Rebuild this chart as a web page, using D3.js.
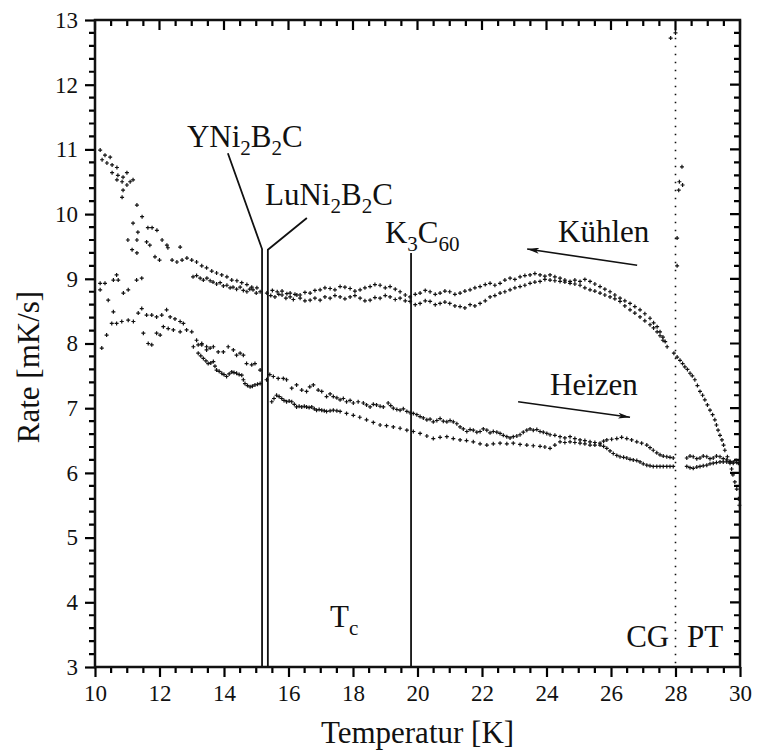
<!DOCTYPE html>
<html><head><meta charset="utf-8">
<script src="https://cdn.jsdelivr.net/npm/d3@7"></script>
<style>
body{margin:0;background:#fff}
svg{display:block}
text{font-family:"Liberation Serif","Times New Roman",Times,serif;fill:#111}
</style>
</head><body>
<svg id="c" width="758" height="751"></svg>
<script>
// ---------- data ----------
const xMajorTicks = [10,12,14,16,18,20,22,24,26,28,30];
const yMajorTicks = [3,4,5,6,7,8,9,10,11,12,13];
const xLabel = "Temperatur [K]";
const yLabel = "Rate [mK/s]";

const coolingLowT = [[10.16,10.99],[10.31,10.91],[10.47,10.88],[10.22,10.84],[10.37,10.79],[10.53,10.76],[10.68,10.72],[10.53,10.64],[10.71,10.6],[10.87,10.57],[10.99,10.64],[10.68,10.53],[10.84,10.5],[10.99,10.45],[11.09,10.5],[11.18,10.53],[10.87,10.37],[10.84,10.26],
[11.3,10.14],[11.18,9.86],[11.46,9.96],[11.64,9.79],[11.77,9.79],[11.92,9.75],[11.33,9.72],[11.3,9.6],[11.02,9.6],[11.6,9.57],[11.7,9.52],[12.08,9.6],[12.23,9.52],[11.15,9.45],[11.3,9.4],[11.86,9.34],[12.0,9.29],[12.26,9.48],[12.64,9.49],[12.39,9.29],[12.54,9.26],[12.7,9.29],[12.85,9.32]];

const coolingUpper = [[13.00,9.29],[13.15,9.26],[13.31,9.20],[13.46,9.17],[13.62,9.12],[13.77,9.09],[13.93,9.06],[14.09,9.03],[14.24,8.98],[14.40,8.97],[14.55,8.94],[14.71,8.91],[14.86,8.87],[15.02,8.86],[15.50,8.82],[15.65,8.80],[15.80,8.81],[15.95,8.77],[16.05,8.78],[16.20,8.76],[16.36,8.75],[16.51,8.79],[16.67,8.78],[16.82,8.82],[16.98,8.83],[17.13,8.86],[17.29,8.85],[17.44,8.83],[17.60,8.88],[17.75,8.87],[17.91,8.85],[18.06,8.81],[18.22,8.83],[18.37,8.86],[18.53,8.88],[18.68,8.91],[18.84,8.90],[19.00,8.86],[19.15,8.88],[19.31,8.84],[19.46,8.80],[19.62,8.75],[19.77,8.72],[19.93,8.76],[20.08,8.78],[20.24,8.82],[20.39,8.80],[20.55,8.76],[20.70,8.78],[20.85,8.81],[21.00,8.80],[21.16,8.76],[21.32,8.78],[21.47,8.81],[21.63,8.83],[21.78,8.86],[21.94,8.88],[22.10,8.91],[22.25,8.93],[22.40,8.90],[22.56,8.93],[22.71,8.98],[22.87,9.01],[23.02,8.99],[23.18,9.03],[23.33,9.05],[23.49,9.06],[23.64,9.08],[23.80,9.06],[23.95,9.04],[24.11,9.06],[24.26,9.03],[24.42,9.01],[24.57,8.98],[24.73,8.96],[24.88,8.98],[25.04,8.96],[25.19,8.99],[25.35,8.96],[25.50,8.92],[25.66,8.88],[25.81,8.84],[25.97,8.80],[26.12,8.75],[26.28,8.70],[26.43,8.66],[26.59,8.62],[26.74,8.57],[26.90,8.52],[27.05,8.46],[27.21,8.39],[27.32,8.32],[27.43,8.26],[27.52,8.18],[27.61,8.10],[27.68,8.03],[27.74,7.95]];

const coolingLower = [[13.04,9.03],[13.15,9.05],[13.26,9.01],[13.36,8.98],[13.47,9.01],[13.57,8.97],[13.66,8.95],[13.77,8.92],[13.88,8.94],[13.98,8.89],[14.09,8.90],[14.19,8.86],[14.28,8.87],[14.39,8.84],[14.50,8.87],[14.60,8.82],[14.71,8.80],[14.80,8.84],[14.90,8.83],[15.00,8.78],[15.12,8.80],[15.33,8.78],[15.45,8.74],[15.58,8.72],[15.70,8.76],[15.80,8.75],[15.92,8.70],[16.05,8.72],[16.15,8.68],[16.26,8.75],[16.36,8.70],[16.51,8.66],[16.67,8.67],[16.82,8.70],[16.98,8.67],[17.13,8.72],[17.29,8.70],[17.44,8.74],[17.60,8.72],[17.75,8.69],[17.91,8.72],[18.06,8.74],[18.22,8.70],[18.37,8.66],[18.53,8.67],[18.68,8.71],[18.84,8.70],[19.00,8.74],[19.15,8.72],[19.31,8.68],[19.46,8.70],[19.62,8.66],[19.77,8.65],[19.93,8.60],[20.08,8.62],[20.24,8.66],[20.39,8.65],[20.55,8.60],[20.70,8.62],[20.85,8.64],[21.00,8.62],[21.16,8.58],[21.32,8.57],[21.47,8.55],[21.63,8.60],[21.78,8.58],[21.94,8.62],[22.10,8.66],[22.25,8.72],[22.40,8.74],[22.56,8.78],[22.71,8.80],[22.87,8.83],[23.02,8.86],[23.18,8.88],[23.33,8.90],[23.49,8.93],[23.64,8.95],[23.80,8.96],[23.95,8.99],[24.11,8.98],[24.26,8.97],[24.42,8.96],[24.57,8.95],[24.73,8.93],[24.88,8.92],[25.04,8.90],[25.19,8.86],[25.35,8.83],[25.50,8.81],[25.66,8.78],[25.81,8.75],[25.97,8.72],[26.12,8.69],[26.28,8.65],[26.43,8.58],[26.59,8.52],[26.74,8.47],[26.90,8.41],[27.05,8.35],[27.21,8.29],[27.32,8.24],[27.43,8.18],[27.52,8.12],[27.61,8.05]];

const coolingHighT = [[27.95,7.85],[28.05,7.79],[28.14,7.74],[28.22,7.69],[28.29,7.64],[28.37,7.60],[28.45,7.54],[28.52,7.50],[28.6,7.44],[28.68,7.35],[28.76,7.26],[28.84,7.20],[28.91,7.13],[28.99,7.05],[29.07,6.97],[29.15,6.90],[29.22,6.82],[29.27,6.74],[29.32,6.66],[29.38,6.58],[29.44,6.51],[29.49,6.43],[29.53,6.35],[29.61,6.25],[29.69,6.15],[29.74,6.06],[29.78,5.97],[29.84,5.86],[29.9,5.75],[29.95,5.6],[29.98,5.5],
[28.0,12.8],[27.85,12.72],[28.2,10.73],[28.12,10.5],[28.22,10.45],[28.1,10.37],[28.05,9.63],[28.05,9.2]];

const heatingLowT = [[10.16,8.93],[10.31,8.93],[10.16,8.83],[10.41,8.67],[10.57,8.98],[10.67,9.06],[10.72,8.98],[10.88,8.78],[11.03,8.83],[11.29,8.98],[11.45,9.01],
[10.21,7.93],[10.36,8.13],[10.52,8.31],[10.57,8.49],[10.67,8.31],[10.83,8.34],[11.03,8.36],[11.19,8.34],[11.34,8.47],[11.45,8.54],[11.6,8.44],[11.76,8.44],[11.91,8.41],[12.07,8.44],[12.22,8.52],[12.33,8.41],[12.48,8.38],[12.64,8.34],
[11.5,8.16],[11.65,8.0],[11.76,7.98],[11.91,8.16],[12.02,8.13],[12.12,8.26],[12.27,8.23],[12.43,8.21],[12.64,8.18],[12.74,8.31],[12.84,8.21],[13.0,8.18],[13.15,8.05],[13.31,8.0],[13.46,7.95]];

const heatingUpper = [[13.05,7.95],[13.20,7.98],[13.31,7.98],[13.46,7.90],[13.57,7.93],[13.67,7.95],[13.82,7.87],[13.98,7.87],[14.13,7.95],[14.29,7.90],[14.39,7.82],[14.50,7.85],[14.60,7.82],[14.70,7.69],[14.86,7.67],[14.96,7.69],[15.12,7.59],[15.32,7.44],[15.42,7.52],[15.53,7.49],[15.68,7.46],[15.84,7.46],[15.94,7.44],[16.10,7.31],[16.25,7.36],[16.41,7.28],[16.56,7.26],[16.66,7.33],[16.77,7.36],[16.92,7.28],[17.03,7.26],[17.18,7.18],[17.29,7.22],[17.39,7.18],[17.50,7.16],[17.60,7.13],[17.70,7.15],[17.80,7.10],[17.91,7.12],[18.01,7.08],[18.16,7.10],[18.32,7.08],[18.42,7.05],[18.53,7.02],[18.63,7.06],[18.73,7.05],[18.84,7.03],[18.94,7.02],[19.09,7.08],[19.17,7.04],[19.25,7.00],[19.36,6.98],[19.46,6.97],[19.56,6.99],[19.67,6.95],[19.77,6.93],[19.87,6.92],[19.98,6.90],[20.08,6.87],[20.18,6.85],[20.29,6.82],[20.39,6.83],[20.49,6.79],[20.60,6.81],[20.70,6.84],[20.80,6.80],[20.91,6.79],[21.01,6.81],[21.11,6.79],[21.22,6.76],[21.32,6.71],[21.42,6.68],[21.53,6.64],[21.63,6.67],[21.73,6.66],[21.84,6.63],[21.94,6.64],[22.04,6.68],[22.15,6.66],[22.25,6.62],[22.35,6.64],[22.46,6.63],[22.56,6.61],[22.66,6.58],[22.77,6.56],[22.87,6.54],[22.97,6.56],[23.08,6.57],[23.18,6.59],[23.28,6.63],[23.39,6.66],[23.49,6.68],[23.59,6.66],[23.70,6.67],[23.80,6.64],[23.90,6.63],[24.01,6.61],[24.11,6.59],[24.26,6.58],[24.42,6.56],[24.57,6.54],[24.73,6.56],[24.88,6.53],[25.04,6.51],[25.19,6.50],[25.35,6.48],[25.50,6.47],[25.66,6.46],[25.77,6.49],[25.87,6.51],[26.02,6.52],[26.18,6.53],[26.33,6.55],[26.49,6.53],[26.64,6.51],[26.80,6.48],[26.95,6.46],[27.11,6.43],[27.21,6.39],[27.31,6.35],[27.42,6.31],[27.52,6.28],[27.62,6.26],[27.73,6.25],[27.83,6.24],[27.93,6.23],[28.35,6.23],[28.45,6.26],[28.55,6.25],[28.66,6.22],[28.76,6.23],[28.86,6.26],[28.97,6.25],[29.07,6.22],[29.17,6.23],[29.27,6.26],[29.38,6.25],[29.48,6.22],[29.59,6.20],[29.69,6.17],[29.79,6.15],[29.88,6.19],[29.95,6.15]];

const heatingLower = [[13.20,7.85],[13.28,7.81],[13.36,7.77],[13.44,7.73],[13.51,7.69],[13.59,7.70],[13.67,7.72],[13.72,7.65],[13.77,7.59],[13.85,7.57],[13.93,7.54],[14.00,7.52],[14.08,7.49],[14.16,7.53],[14.24,7.56],[14.31,7.55],[14.39,7.54],[14.47,7.52],[14.55,7.51],[14.60,7.44],[14.65,7.38],[14.73,7.35],[14.81,7.33],[14.88,7.34],[14.96,7.36],[15.04,7.37],[15.12,7.38],[15.48,7.10],[15.55,7.15],[15.63,7.20],[15.71,7.18],[15.79,7.15],[15.86,7.12],[15.94,7.10],[16.02,7.11],[16.10,7.10],[16.18,7.06],[16.25,7.02],[16.33,7.03],[16.41,7.02],[16.49,7.03],[16.56,7.02],[16.64,7.01],[16.72,7.02],[16.80,6.99],[16.87,6.97],[16.95,6.98],[17.03,6.97],[17.11,6.96],[17.18,6.95],[17.29,6.96],[17.39,6.97],[17.50,6.96],[17.60,6.95],[17.80,6.92],[18.01,6.89],[18.21,6.86],[18.42,6.82],[18.63,6.78],[18.84,6.74],[19.04,6.73],[19.25,6.71],[19.46,6.69],[19.67,6.66],[19.87,6.64],[20.08,6.61],[20.29,6.57],[20.49,6.53],[20.70,6.55],[20.91,6.56],[21.11,6.53],[21.32,6.51],[21.52,6.50],[21.73,6.48],[21.94,6.45],[22.15,6.43],[22.35,6.45],[22.56,6.46],[22.77,6.45],[22.97,6.46],[23.18,6.44],[23.39,6.43],[23.59,6.42],[23.80,6.41],[23.95,6.40],[24.11,6.38],[24.26,6.43],[24.42,6.48],[24.57,6.47],[24.73,6.48],[24.88,6.47],[25.04,6.46],[25.19,6.45],[25.35,6.43],[25.50,6.43],[25.66,6.43],[25.77,6.41],[25.87,6.38],[25.97,6.34],[26.07,6.30],[26.18,6.27],[26.28,6.25],[26.39,6.24],[26.49,6.23],[26.59,6.21],[26.69,6.20],[26.80,6.19],[26.90,6.17],[27.00,6.14],[27.11,6.12],[27.21,6.11],[27.31,6.10],[27.42,6.10],[27.52,6.10],[27.62,6.10],[27.73,6.10],[27.83,6.10],[27.93,6.10],[28.35,6.10],[28.45,6.08],[28.55,6.07],[28.66,6.09],[28.76,6.10],[28.86,6.11],[28.97,6.12],[29.07,6.14],[29.17,6.15],[29.27,6.16],[29.38,6.17],[29.48,6.17],[29.59,6.17],[29.69,6.18],[29.79,6.17],[29.90,6.16]];

// transition temperatures (Tc markers) and CG/PT boundary
const tcLines = [
  {name:[["YNi",0],["2",1],["B",0],["2",1],["C",0]], T:15.18, top:9.46, lead:[14.12,10.94], label:[12.85,11.04]},
  {name:[["LuNi",0],["2",1],["B",0],["2",1],["C",0]], T:15.36, top:9.45, lead:[16.57,9.94], label:[15.27,10.14]},
  {name:[["K",0],["3",1],["C",0],["60",1]], T:19.8, top:9.4, lead:null, label:[18.99,9.55]}
];
const boundaryT = 28.0;

// ---------- drawing ----------
const svg = d3.select("#c");
const x = d3.scaleLinear().domain([10,30]).range([95,740]);
const y = d3.scaleLinear().domain([3,13]).range([667,20]);
const X0 = 95, X1 = 740, Y0 = 667, Y1 = 20;

const xMinor = d3.range(10,30.001,0.5).filter(v=>!xMajorTicks.includes(v));
const yMinor = d3.range(3,13.001,0.2).map(v=>+v.toFixed(1)).filter(v=>!yMajorTicks.includes(v));

const FONT = '"Liberation Serif","Times New Roman",Times,serif';
function styleAxis(g){
  g.attr("font-family",FONT);
  g.select(".domain").remove();
  g.selectAll(".tick line").attr("stroke","#000").attr("stroke-width",2.2);
  g.selectAll(".tick text").attr("font-size",23).attr("fill","#111").style("font-family",FONT);
}
// labelled axes (bottom, left)
svg.append("g").attr("transform",`translate(0,${Y0})`)
  .call(d3.axisBottom(x).tickValues(xMajorTicks).tickSize(10).tickPadding(8).tickSizeOuter(0)).call(styleAxis);
svg.append("g").attr("transform",`translate(${X0},0)`)
  .call(d3.axisLeft(y).tickValues(yMajorTicks).tickSize(10).tickPadding(7).tickSizeOuter(0)).call(styleAxis);

// remaining tick marks (minor ticks, mirrored top/right ticks): all point down / left
let td = "";
xMajorTicks.forEach(v=>{ td += `M${x(v)},${Y1}v10`; });
xMinor.forEach(v=>{ td += `M${x(v)},${Y0}v6M${x(v)},${Y1}v6`; });
yMajorTicks.forEach(v=>{ td += `M${X1},${y(v)}h-10`; });
yMinor.forEach(v=>{ td += `M${X0},${y(v)}h-6M${X1},${y(v)}h-6`; });
svg.append("path").attr("d",td).attr("fill","none").attr("stroke","#000").attr("stroke-width",2.2);

// frame
svg.append("rect").attr("x",X0).attr("y",Y1).attr("width",X1-X0).attr("height",Y0-Y1)
  .attr("fill","none").attr("stroke","#111").attr("stroke-width",2.5);

// axis titles
svg.append("text").attr("x",(X0+X1)/2).attr("y",743).attr("text-anchor","middle")
  .attr("font-size",31).text(xLabel);
svg.append("text").attr("transform",`translate(39,367) rotate(-90)`).attr("text-anchor","middle")
  .attr("font-size",31).text(yLabel);

// boundary dotted line
svg.append("line").attr("x1",x(boundaryT)).attr("x2",x(boundaryT)).attr("y1",y(12.85)).attr("y2",Y0)
  .attr("stroke","#111").attr("stroke-width",1.6).attr("stroke-dasharray","1.6,6.4");

// Tc lines
tcLines.forEach(d=>{
  const pts = d.lead ? [d.lead,[d.T,d.top],[d.T,3]] : [[d.T,d.top],[d.T,3]];
  svg.append("path").attr("d",d3.line().x(p=>x(p[0])).y(p=>y(p[1]))(pts))
    .attr("fill","none").attr("stroke","#111").attr("stroke-width",1.8);
});

// data markers
const plus = "M-2,0H2M0,-2V2";
[coolingLowT,coolingUpper,coolingLower,coolingHighT,heatingLowT,heatingUpper,heatingLower].forEach(series=>{
  svg.append("g").selectAll("path").data(series).join("path")
    .attr("transform",d=>`translate(${x(d[0])},${y(d[1])})`)
    .attr("d",plus).attr("stroke","#111").attr("stroke-width",1.2).attr("fill","none");
});

// labels with subscripts
function richText(parts, T, v, size){
  const t = svg.append("text").attr("x",x(T)).attr("y",y(v)).attr("font-size",size);
  let sub = 0;
  parts.forEach(([s,isSub])=>{
    const dy = isSub && !sub ? 8 : (!isSub && sub ? -8 : 0);
    t.append("tspan").attr("dy",dy).attr("font-size",isSub?size*0.68:size).text(s);
    sub = isSub;
  });
}
tcLines.forEach(d=>richText(d.name,d.label[0],d.label[1],31));
richText([["T",0],["c",1]],17.29,3.62,31);
richText([["CG",0]],26.47,3.31,31);
richText([["PT",0]],28.36,3.31,31);
richText([["Kühlen",0]],24.36,9.57,31);
richText([["Heizen",0]],24.11,7.2,31);

// arrows
const defs = svg.append("defs");
defs.append("marker").attr("id","ah").attr("viewBox","0 0 12 6").attr("refX",12).attr("refY",3)
  .attr("markerWidth",12).attr("markerHeight",6).attr("markerUnits","userSpaceOnUse").attr("orient","auto")
  .append("path").attr("d","M0,0L12,3L0,6L3,3z").attr("fill","#111");
const arrows = [[[26.81,9.21],[23.4,9.46]],[[23.12,7.1],[26.59,6.86]]];
arrows.forEach(a=>{
  svg.append("line").attr("x1",x(a[0][0])).attr("y1",y(a[0][1])).attr("x2",x(a[1][0])).attr("y2",y(a[1][1]))
    .attr("stroke","#111").attr("stroke-width",1.6).attr("marker-end","url(#ah)");
});
</script>
</body></html>
